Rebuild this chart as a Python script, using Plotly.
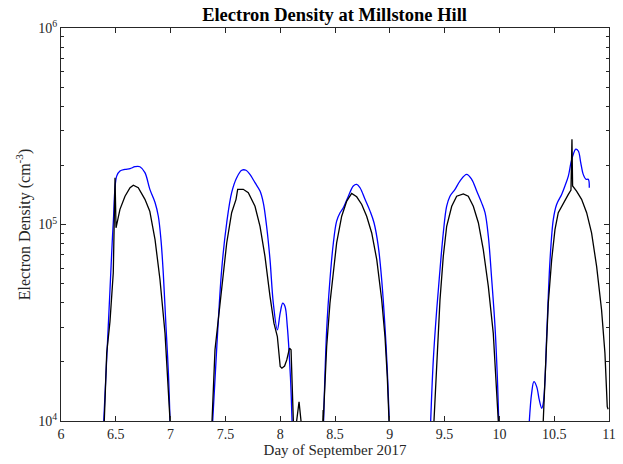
import plotly.graph_objects as go

# Day of September 2017 and log10 of electron density (cm^-3); None separates passes
blue_day = [6.39, 6.447, 6.477, 6.508, 6.538, 6.584, 6.63, 6.675, 6.72, 6.766, 6.81, 6.858, 6.888, 6.912, 6.933, 6.958, 6.98, 6.995, None,
            7.384, 7.42, 7.466, 7.512, 7.557, 7.603, 7.649, 7.688, 7.724, 7.77, 7.816, 7.846, 7.876, 7.907, 7.937, 7.974, 8.0, 8.023, 8.044, 8.065, 8.08, 8.096, 8.108, None,
            8.396, 8.424, 8.454, 8.485, 8.515, 8.546, 8.576, 8.622, 8.667, 8.698, 8.728, 8.774, 8.82, 8.856, 8.895, 8.926, 8.956, 8.977, 8.995, None,
            9.373, 9.397, 9.428, 9.458, 9.488, 9.519, 9.549, 9.595, 9.64, 9.701, 9.747, 9.793, 9.838, 9.869, 9.899, 9.93, 9.96, 9.981, 9.994, None,
            10.273, 10.294, 10.315, 10.34, 10.364, 10.386, 10.4, 10.416, 10.431, 10.446, 10.462, 10.492, 10.522, 10.568, 10.598, 10.629, 10.653, 10.674, 10.696, 10.72, 10.742, 10.765, 10.79, 10.811, 10.82]
blue_log = [4.0, 4.668, 5.01, 5.246, 5.272, 5.28, 5.284, 5.294, 5.294, 5.264, 5.18, 5.112, 5.042, 4.923, 4.754, 4.48, 4.243, 4.0, None,
            4.0, 4.362, 4.77, 5.009, 5.162, 5.238, 5.276, 5.276, 5.255, 5.213, 5.17, 5.11, 4.991, 4.821, 4.6, 4.464, 4.55, 4.6, 4.583, 4.48, 4.362, 4.192, 4.0, None,
            4.0, 4.464, 4.719, 4.906, 5.017, 5.06, 5.085, 5.144, 5.196, 5.204, 5.187, 5.128, 5.068, 5.009, 4.889, 4.719, 4.48, 4.26, 4.0, None,
            4.0, 4.311, 4.566, 4.77, 4.957, 5.093, 5.144, 5.179, 5.221, 5.255, 5.23, 5.17, 5.11, 5.06, 4.94, 4.719, 4.48, 4.226, 4.0, None,
            4.0, 4.141, 4.2, 4.175, 4.107, 4.065, 4.09, 4.209, 4.43, 4.634, 4.821, 5.026, 5.102, 5.153, 5.196, 5.246, 5.315, 5.357, 5.383, 5.374, 5.315, 5.255, 5.23, 5.23, 5.187]

black_day = [6.395, 6.417, 6.447, 6.477, 6.486, 6.493, 6.502, 6.538, 6.584, 6.63, 6.66, 6.705, 6.766, 6.81, 6.858, 6.903, 6.949, 6.97, 6.995, None,
             7.378, 7.405, 7.435, 7.466, 7.512, 7.557, 7.597, 7.612, 7.663, 7.709, 7.77, 7.816, 7.861, 7.907, 7.943, 7.974, 8.0, 8.015, 8.04, 8.06, 8.085, 8.099, 8.11, 8.12, None,
             8.15, 8.172, 8.19, None,
             8.39, 8.392, None,
             8.393, 8.424, 8.454, 8.485, 8.515, 8.561, 8.607, 8.652, 8.698, 8.744, 8.789, 8.835, 8.881, 8.926, 8.956, 8.977, 8.993, None,
             9.403, 9.428, 9.458, 9.488, 9.519, 9.565, 9.61, 9.671, 9.716, 9.762, 9.808, 9.853, 9.899, 9.944, 9.975, 9.99, None,
             10.4, 10.425, 10.446, 10.477, 10.507, 10.537, 10.583, 10.629, 10.653, 10.662, 10.668, 10.704, 10.75, 10.796, 10.841, 10.887, 10.932, 10.963, 10.984, 10.992]
black_log = [4.0, 4.345, 4.507, 4.754, 5.026, 5.238, 4.983, 5.077, 5.144, 5.187, 5.2, 5.187, 5.128, 5.068, 4.923, 4.72, 4.447, 4.243, 4.0, None,
             4.0, 4.362, 4.515, 4.668, 4.906, 5.06, 5.128, 5.179, 5.179, 5.162, 5.093, 4.991, 4.838, 4.634, 4.498, 4.43, 4.277, 4.269, 4.28, 4.311, 4.371, 4.362, 4.192, 4.0, None,
             4.0, 4.098, 4.0, None,
             4.0, 4.056, None,
             4.0, 4.379, 4.6, 4.77, 4.906, 5.042, 5.119, 5.158, 5.141, 5.102, 5.042, 4.957, 4.821, 4.617, 4.43, 4.226, 4.0, None,
             4.0, 4.311, 4.617, 4.838, 4.991, 5.093, 5.144, 5.156, 5.144, 5.093, 5.009, 4.872, 4.685, 4.447, 4.175, 4.0, None,
             4.0, 4.345, 4.6, 4.821, 4.974, 5.06, 5.11, 5.153, 5.175, 5.434, 5.196, 5.17, 5.128, 5.06, 4.957, 4.787, 4.566, 4.345, 4.073, 4.06]

x_ticks = [6, 6.5, 7, 7.5, 8, 8.5, 9, 9.5, 10, 10.5, 11]
x_tick_labels = ["6", "6.5", "7", "7.5", "8", "8.5", "9", "9.5", "10", "10.5", "11"]
y_ticks = [1e4, 1e5, 1e6]
y_tick_labels = ["10<sup>4</sup>", "10<sup>5</sup>", "10<sup>6</sup>"]
y_minor_ticks = [m * 10 ** e for e in (4, 5) for m in range(2, 10)]


def to_density(vals):
    return [None if v is None else 10 ** v for v in vals]


fig = go.Figure()
fig.add_trace(go.Scatter(x=blue_day, y=to_density(blue_log), mode="lines",
                         line=dict(color="#0000ff", width=1.3), connectgaps=False,
                         line_shape="spline", showlegend=False))
fig.add_trace(go.Scatter(x=black_day, y=to_density(black_log), mode="lines",
                         line=dict(color="#000000", width=1.3), connectgaps=False,
                         showlegend=False))

font_family = "Liberation Serif, Times New Roman, serif"
fig.update_layout(
    width=623, height=464,
    margin=dict(l=61, r=14, t=28, b=43),
    paper_bgcolor="white", plot_bgcolor="white",
    font=dict(family=font_family, size=14, color="#262626"),
    title=dict(text="<b>Electron Density at Millstone Hill</b>", x=0.537, xanchor="center",
               y=0.969, yanchor="middle", font=dict(family=font_family, size=18.5, color="black")),
)
fig.update_xaxes(range=[6, 11], tickvals=x_ticks, ticktext=x_tick_labels,
                 ticks="inside", ticklen=5, tickcolor="#262626",
                 tickfont=dict(size=14), automargin=False,
                 showline=True, linecolor="#262626", linewidth=1, mirror="ticks",
                 showgrid=False, zeroline=False,
                 title=dict(text="Day of September 2017", standoff=3, font=dict(size=15)))
fig.update_yaxes(type="log", range=[4, 6], tickvals=y_ticks, ticktext=y_tick_labels,
                 ticks="inside", ticklen=5, tickcolor="#262626",
                 tickfont=dict(size=14), automargin=False,
                 minor=dict(ticks="inside", ticklen=3, tickcolor="#262626", showgrid=False,
                            tickmode="array", tickvals=y_minor_ticks),
                 showline=True, linecolor="#262626", linewidth=1, mirror="ticks",
                 showgrid=False, zeroline=False,
                 title=dict(text="Electron Density (cm<sup>-3</sup>)", standoff=3, font=dict(size=16)))

fig.write_html("out.html", config={"displayModeBar": False},
               post_script="document.body.style.margin='0';")
